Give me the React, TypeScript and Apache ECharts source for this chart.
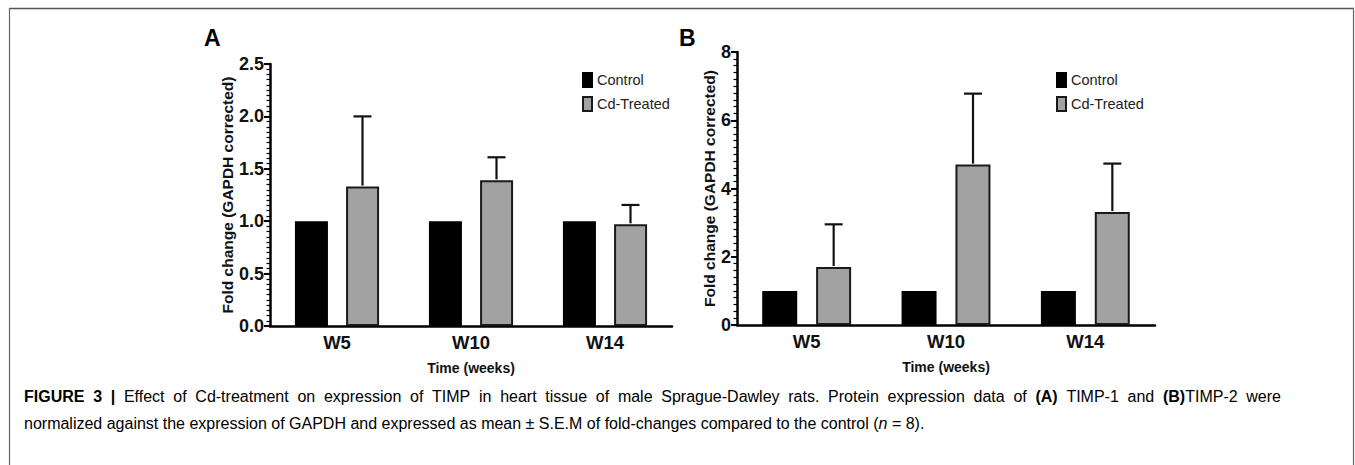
import React, { useEffect, useRef } from "react";
import * as echarts from "echarts";

const categories = ["W5", "W10", "W14"];
const controlA = [1.0, 1.0, 1.0];
const treatedA = [1.33, 1.39, 0.97];
const treatedErrA = [0.67, 0.22, 0.185];
const controlB = [1.0, 1.0, 1.0];
const treatedB = [1.7, 4.7, 3.31];
const treatedErrB = [1.25, 2.08, 1.42];
const yTicksA = { min: 0, max: 2.5, interval: 0.5, minor: 0.05 };
const yTicksB = { min: 0, max: 8, interval: 2, minor: 0.2 };

const captionLine1: string[] = [
  "{b|FIGURE}", "{b|3}", "{b||}", "{n|Effect}", "{n|of}", "{n|Cd-treatment}", "{n|on}",
  "{n|expression}", "{n|of}", "{n|TIMP}", "{n|in}", "{n|heart}", "{n|tissue}", "{n|of}",
  "{n|male}", "{n|Sprague-Dawley}", "{n|rats.}", "{n|Protein}", "{n|expression}", "{n|data}",
  "{n|of}", "{b|(A)}", "{n|TIMP-1}", "{n|and}", "{b|(B)}{n|TIMP-2}", "{n|were}",
];
const captionLine2 =
  "{n|normalized against the expression of GAPDH and expressed as mean ± S.E.M of fold-changes compared to the control (}{i|n}{n| = 8).}";

const FONT = "'Liberation Sans', Arial, Helvetica, sans-serif";
const CAP_SIZE = 16;

export default function App() {
  const ref = useRef<HTMLDivElement>(null);
  useEffect(() => {
    if (!ref.current) return;
    const chart = echarts.init(ref.current, null, { renderer: "svg" });

    const panels = [
      { grid: { left: 270, top: 64, width: 402, height: 262 }, ctrl: controlA, trt: treatedA, err: treatedErrA, ticks: yTicksA, barW: 33, gap: 18, digits: 1, nameGap: 31, legendLeft: 577 },
      { grid: { left: 737, top: 52, width: 418, height: 273 }, ctrl: controlB, trt: treatedB, err: treatedErrB, ticks: yTicksB, barW: 35, gap: 19, digits: 0, nameGap: 16, legendLeft: 1051 },
    ];

    const grids: any[] = [];
    const xAxes: any[] = [];
    const yAxes: any[] = [];
    const series: any[] = [];
    const legends: any[] = [];

    panels.forEach((p, i) => {
      grids.push({ ...p.grid, containLabel: false });
      xAxes.push({
        type: "category",
        gridIndex: i,
        data: categories,
        boundaryGap: true,
        name: "Time (weeks)",
        nameLocation: "middle",
        nameGap: 35,
        nameTextStyle: { fontFamily: FONT, fontWeight: "bold", fontSize: 14, color: "#111" },
        axisLine: { lineStyle: { color: "#000", width: 2.5 } },
        axisTick: { alignWithLabel: true, length: 5, lineStyle: { color: "#000", width: 2 } },
        axisLabel: { fontFamily: FONT, fontWeight: "bold", fontSize: 18.5, color: "#111", margin: 7 },
      });
      yAxes.push({
        type: "value",
        gridIndex: i,
        position: "left",
        min: p.ticks.min,
        max: p.ticks.max,
        interval: p.ticks.interval,
        name: "Fold change (GAPDH corrected)",
        nameLocation: "middle",
        nameGap: p.nameGap,
        nameTextStyle: { fontFamily: FONT, fontWeight: "bold", fontSize: 15.5, color: "#111" },
        axisLine: { show: true, lineStyle: { color: "#000", width: 2.5 } },
        axisTick: { show: true, length: 6, lineStyle: { color: "#000", width: 2 } },
        splitLine: { show: false },
        z: 3,
        axisLabel: {
          fontFamily: FONT, fontWeight: "bold", fontSize: 18, color: "#111", margin: 6,
          formatter: (v: number) => v.toFixed(p.digits),
        },
      });
      yAxes.push({
        type: "value",
        gridIndex: i,
        position: "left",
        offset: 0,
        min: p.ticks.min,
        max: p.ticks.max,
        interval: p.ticks.minor,
        axisLine: { show: false },
        axisTick: { show: true, length: 3.5, lineStyle: { color: "#000", width: 1.2 } },
        axisLabel: { show: false },
        splitLine: { show: false },
      });
      const yi = 2 * i;
      series.push({
        type: "bar", name: "Control", xAxisIndex: i, yAxisIndex: yi, data: p.ctrl,
        barWidth: p.barW, barGap: `${Math.round((p.gap / p.barW) * 100)}%`,
        itemStyle: { color: "#000", borderColor: "#000", borderWidth: 1.5 },
      });
      series.push({
        type: "bar", name: "Cd-Treated", xAxisIndex: i, yAxisIndex: yi, data: p.trt,
        barWidth: p.barW, barGap: `${Math.round((p.gap / p.barW) * 100)}%`,
        itemStyle: { color: "#a2a2a2", borderColor: "#1a1a1a", borderWidth: 2 },
      });
      const offset = (p.barW + p.gap) / 2;
      series.push({
        type: "custom", name: "err" + i, xAxisIndex: i, yAxisIndex: yi,
        data: categories.map((_, k) => [k, p.trt[k], p.err[k]]),
        encode: { x: 0, y: 1 },
        z: 5,
        renderItem: (params: any, api: any) => {
          const k = api.value(0);
          const v = api.value(1);
          const e = api.value(2);
          const p0 = api.coord([k, v]);
          const p1 = api.coord([k, v + e]);
          const cx = p0[0] + offset;
          const cap = 18;
          const st = { stroke: "#111", lineWidth: 2.2 };
          return {
            type: "group",
            children: [
              { type: "line", shape: { x1: cx, y1: p0[1] - 1, x2: cx, y2: p1[1] }, style: st },
              { type: "line", shape: { x1: cx - cap / 2, y1: p1[1], x2: cx + cap / 2, y2: p1[1] }, style: st },
            ],
          };
        },
      });
      legends.push({
        data: ["Control", "Cd-Treated"],
        orient: "vertical",
        left: p.legendLeft,
        top: 67,
        itemWidth: 9,
        itemHeight: 14,
        itemGap: 8,
        icon: "rect",
        selectedMode: false,
        textStyle: { fontFamily: FONT, fontSize: 14.5, color: "#222" },
      });
    });

    const canvas = document.createElement("canvas");
    const ctx = canvas.getContext("2d")!;
    let wordsW = 0;
    captionLine1.forEach((tok) => {
      const re = /\{([a-z]+)\|([^}]*)\}/g;
      let m: RegExpExecArray | null;
      while ((m = re.exec(tok))) {
        ctx.font = `${m[1] === "b" ? "bold " : ""}${CAP_SIZE}px ${FONT}`;
        wordsW += ctx.measureText(m[2]).width;
      }
    });
    const spaceW = Math.max(4, (1281 - 24 - wordsW) / (captionLine1.length - 1));
    const line1 = captionLine1.join("{s| }");

    const capStyle = {
      rich: {
        b: { fontFamily: FONT, fontWeight: "bold", fontSize: CAP_SIZE, color: "#222" },
        n: { fontFamily: FONT, fontSize: CAP_SIZE, color: "#333" },
        i: { fontFamily: FONT, fontSize: CAP_SIZE, fontStyle: "italic", color: "#333" },
        s: { fontFamily: FONT, fontSize: CAP_SIZE, width: spaceW },
      },
    };

    chart.setOption({
      animation: false,
      backgroundColor: "#fff",
      grid: grids,
      xAxis: xAxes,
      yAxis: yAxes,
      series,
      legend: legends,
      graphic: [
        { type: "line", shape: { x1: 9, y1: 8.5, x2: 1354, y2: 8.5 }, style: { stroke: "#555", lineWidth: 1.5 } },
        { type: "line", shape: { x1: 9.5, y1: 8, x2: 9.5, y2: 465 }, style: { stroke: "#666", lineWidth: 1.2 } },
        { type: "line", shape: { x1: 1353.5, y1: 8, x2: 1353.5, y2: 465 }, style: { stroke: "#666", lineWidth: 1.2 } },
        { type: "text", left: 204, top: 26, style: { text: "A", fontFamily: FONT, fontWeight: "bold", fontSize: 23, fill: "#000" } },
        { type: "text", left: 679, top: 26, style: { text: "B", fontFamily: FONT, fontWeight: "bold", fontSize: 23, fill: "#000" } },
        { type: "text", left: 24, top: 388, style: { text: line1, ...capStyle } },
        { type: "text", left: 24, top: 415, style: { text: captionLine2, ...capStyle } },
      ],
    });
    return () => chart.dispose();
  }, []);
  return (
    <>
      <style>{"body{margin:0}"}</style>
      <div ref={ref} style={{ width: 1355, height: 465 }} />
    </>
  );
}
